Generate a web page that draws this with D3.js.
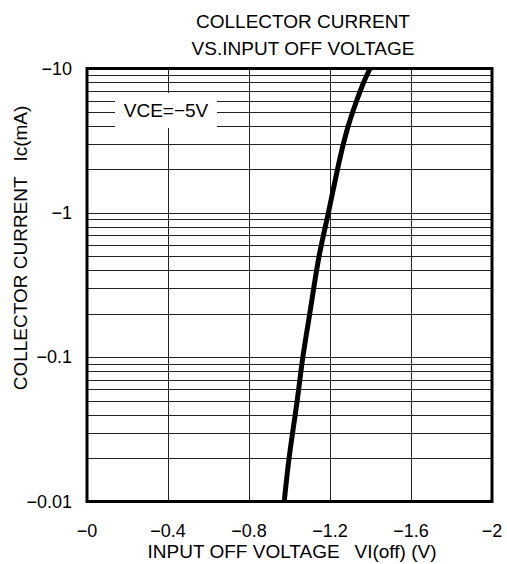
<!DOCTYPE html>
<html>
<head>
    <meta charset="utf-8">
    <style>
        body {
            margin: 0;
            background: #fff;
        }

        svg {
            display: block;
            font-family: "Liberation Sans", Arial, sans-serif;
        }

        .grid line {
            stroke: #222;
            stroke-width: 1;
            shape-rendering: crispEdges;
        }

        .tick-label {
            font-size: 18px;
            fill: #000;
        }

        .title {
            font-size: 19px;
            fill: #000;
            text-anchor: middle;
        }
    </style>
</head>

<body>
    <svg width="507" height="564"></svg>
</body>

<script src="https://d3js.org/d3.v7.min.js"></script>

<script>
    // input off voltage (V) vs collector current (mA)
    const voltage = [-0.974, -0.998, -1.038, -1.066, -1.100, -1.146, -1.192,
        -1.237, -1.266, -1.290, -1.332, -1.366, -1.398];
    const current = [-0.01, -0.02, -0.05, -0.1, -0.2, -0.5, -1,
        -2, -3, -4, -6, -8, -10];

    const xTicks = [0, -0.4, -0.8, -1.2, -1.6, -2];
    const xTickLabels = ["\u22120", "\u22120.4", "\u22120.8", "\u22121.2", "\u22121.6", "\u22122"];
    const yTicks = [-0.01, -0.1, -1, -10];
    const yTickLabels = ["\u22120.01", "\u22120.1", "\u22121", "\u221210"];

    const titleLines = ["COLLECTOR CURRENT", "VS.INPUT OFF VOLTAGE"];
    const xTitle = "INPUT OFF VOLTAGE\u2002 VI(off) (V)";
    const yTitle = "COLLECTOR CURRENT\u2002 Ic(mA)";
    const condition = "VCE=\u22125V";

    let svg = d3.select("svg");

    let margin = { top: 68.5, right: 492, bottom: 501.5, left: 87 };

    let x = d3.scaleLinear()
        .domain([0, -2])
        .range([margin.left, margin.right]);

    let y = d3.scaleLog()
        .domain([-0.01, -10])
        .range([margin.bottom, margin.top]);

    let points = voltage.map((v, i) => ({ v: v, i: current[i] }));

    // grid lines
    let grid = svg.append("g").attr("class", "grid");

    grid.selectAll(".h")
        .data(y.ticks())
        .join("line")
        .attr("class", "h")
        .attr("x1", margin.left)
        .attr("x2", margin.right)
        .attr("y1", d => Math.round(y(d)) + 0.5)
        .attr("y2", d => Math.round(y(d)) + 0.5);

    grid.selectAll(".v")
        .data(xTicks)
        .join("line")
        .attr("class", "v")
        .attr("x1", d => Math.round(x(d)) + 0.5)
        .attr("x2", d => Math.round(x(d)) + 0.5)
        .attr("y1", margin.top)
        .attr("y2", margin.bottom);

    // condition label sits on a white patch over the grid
    svg.append("rect")
        .attr("x", 115)
        .attr("y", 93)
        .attr("width", 102)
        .attr("height", 35)
        .attr("fill", "#fff");

    svg.append("text")
        .attr("class", "title")
        .attr("x", 166)
        .attr("y", 117)
        .text(condition);

    // curve
    let line = d3.line()
        .x(d => x(d.v))
        .y(d => y(d.i))
        .curve(d3.curveCatmullRom.alpha(0.5));

    svg.append("path")
        .datum(points)
        .attr("fill", "none")
        .attr("stroke", "#000")
        .attr("stroke-width", 5)
        .attr("d", line);

    // frame
    svg.append("rect")
        .attr("x", margin.left)
        .attr("y", margin.top)
        .attr("width", margin.right - margin.left)
        .attr("height", margin.bottom - margin.top)
        .attr("fill", "none")
        .attr("stroke", "#000")
        .attr("stroke-width", 3);

    // tick labels
    svg.append("g")
        .selectAll("text")
        .data(xTicks)
        .join("text")
        .attr("class", "tick-label")
        .attr("x", d => x(d))
        .attr("y", 537)
        .attr("text-anchor", "middle")
        .text((d, i) => xTickLabels[i]);

    svg.append("g")
        .selectAll("text")
        .data(yTicks)
        .join("text")
        .attr("class", "tick-label")
        .attr("x", 72)
        .attr("y", d => y(d) + 6)
        .attr("text-anchor", "end")
        .text((d, i) => yTickLabels[i]);

    // titles
    svg.append("g")
        .selectAll("text")
        .data(titleLines)
        .join("text")
        .attr("class", "title")
        .attr("x", 303)
        .attr("y", (d, i) => 28 + i * 27)
        .text(d => d);

    svg.append("text")
        .attr("class", "title")
        .attr("x", 292)
        .attr("y", 558)
        .text(xTitle);

    svg.append("text")
        .attr("class", "title")
        .attr("transform", "translate(27,248) rotate(-90)")
        .text(yTitle);
</script>
</html>
